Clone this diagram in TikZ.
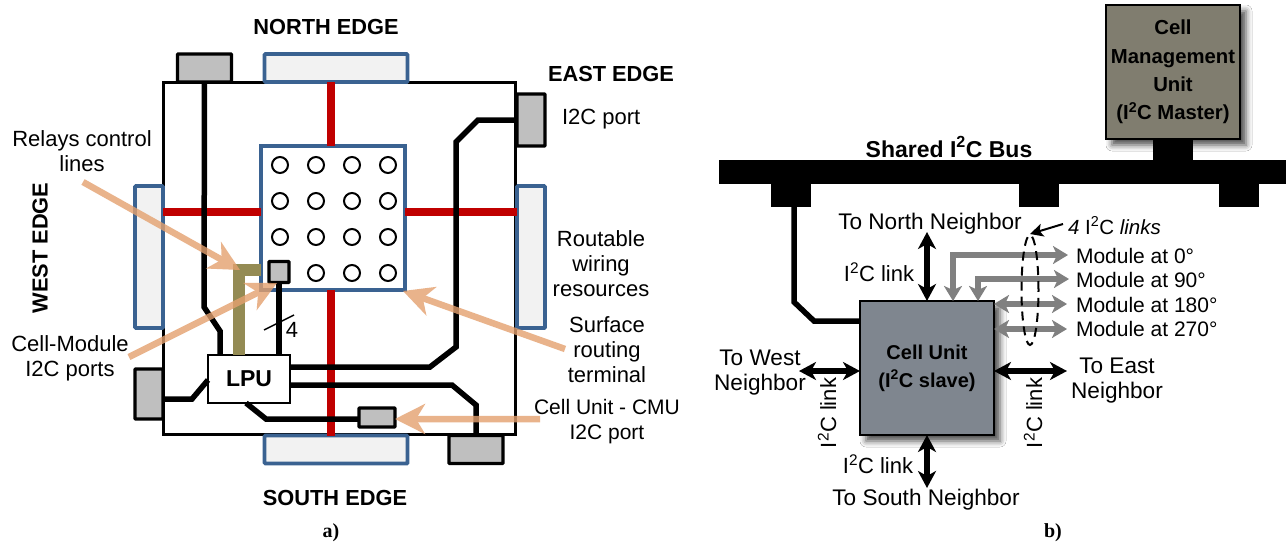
\documentclass[tikz,border=0pt]{standalone}
\usepackage{fontspec}
\setmainfont{Liberation Sans}
\newfontfamily\serifcap{Liberation Serif}
\usetikzlibrary{arrows.meta,shadows.blur,calc,shapes.geometric}
\definecolor{edgeblue}{HTML}{3A6291}
\definecolor{edgefill}{HTML}{F2F2F2}
\definecolor{portgray}{HTML}{BFBFBF}
\definecolor{relayred}{HTML}{C00000}
\definecolor{olive}{HTML}{948B54}
\definecolor{callout}{HTML}{E4A16F}
\definecolor{cmufill}{HTML}{807D6F}
\definecolor{cufill}{HTML}{7F868F}
\definecolor{linkgray}{HTML}{808080}
\newcommand{\fs}[1]{\fontsize{#1}{#1}\selectfont}
\tikzset{
  box/.style={draw,inner sep=0pt,outer sep=0pt},
  edgebox/.style={box,draw=edgeblue,line width=3.6pt,fill=edgefill,rounded corners=0.8pt},
  portbox/.style={box,draw=black,line width=3.4pt,fill=portgray,rounded corners=0.8pt},
  wire/.style={draw=black,line width=5.5pt,line join=miter},
  relayline/.style={draw=relayred,line width=8pt},
  ctrl/.style={draw=olive,line width=12pt,line join=miter},
  hollow/.style={circle,draw=black,line width=2pt,fill=white,minimum size=16pt,inner sep=0pt},
  lbl/.style={inner sep=0pt,outer sep=0pt,align=center,font=\fontsize{22}{25}\selectfont},
  modlbl/.style={lbl,font=\fontsize{21}{25}\selectfont},
  nblbl/.style={lbl,font=\fontsize{22.6}{25}\selectfont},
  boldlbl/.style={inner sep=0pt,outer sep=0pt,align=center,font=\fontsize{21.8}{28}\selectfont\bfseries},
  calloutarrow/.style={draw=callout,line width=6.5pt,-{Stealth[length=30pt,width=30pt,inset=9pt]}},
  biglink/.style={draw=black,line width=6pt,{Stealth[length=17pt,width=18pt,inset=5pt]}-{Stealth[length=17pt,width=18pt,inset=5pt]}},
  graybi/.style={draw=linkgray,line width=5.5pt,line join=miter,{Stealth[length=15pt,width=18pt,inset=4pt]}-{Stealth[length=15pt,width=18pt,inset=4pt]}},
  busblock/.style={fill=black,inner sep=0pt,outer sep=0pt},
  capt/.style={inner sep=0pt,outer sep=0pt,font=\serifcap\fontsize{20}{20}\selectfont\bfseries},
  unitbox/.style={draw=black,line width=2.4pt,inner sep=0pt,outer sep=0pt,align=center,
    blur shadow={shadow xshift=6pt,shadow yshift=-6pt,shadow blur radius=6pt,shadow opacity=70}},
}
\begin{document}
\begin{tikzpicture}[x=1pt,y=-1pt]
\useasboundingbox (0,0) rectangle (1286,546);
\fill[white] (0,0) rectangle (1286,546);

% ---------- a) ----------
\node[box,line width=3pt,minimum width=352pt,minimum height=352pt] (cell) at (339,258) {};

\node[edgebox,minimum width=143pt,minimum height=28pt] (north) at (336,68) {};
\node[edgebox,minimum width=143pt,minimum height=28pt] (south) at (336,449.5) {};
\node[edgebox,minimum width=28pt,minimum height=142pt] (west) at (149,257) {};
\node[edgebox,minimum width=28pt,minimum height=142pt] (east) at (531,257) {};

\node[box,draw=edgeblue,line width=3.6pt,fill=white,minimum width=144pt,minimum height=144pt] (matrix) at (333,218) {};

\path[relayline] (331,0 |- north.south) -- (331,0 |- matrix.north);
\path[relayline] (331,0 |- matrix.south) -- (331,0 |- south.north);
\path[relayline] (west.east |- 0,212) -- (matrix.west |- 0,212);
\path[relayline] (matrix.east |- 0,212) -- (east.west |- 0,212);

\foreach \cx/\nm in {280/a,316/b,352/c,388/d}
  \foreach \cy/\mm in {165/p,201/q,237/r,273/s}
    {\node[hollow] (t\nm\mm) at (\cx,\cy) {};}

\node[portbox,minimum width=54pt,minimum height=28pt] (portN) at (204.5,68) {};
\node[portbox,minimum width=28pt,minimum height=52pt] (portE) at (531,120) {};
\node[portbox,minimum width=54pt,minimum height=28pt] (portS) at (476,449.5) {};
\node[portbox,minimum width=28pt,minimum height=50pt] (portW) at (149,394) {};
\node[portbox,minimum width=20pt,minimum height=21pt] (gate) at (279,272) {};
\node[portbox,minimum width=36pt,minimum height=19pt] (cuport) at (377,417.5) {};
\node[box,line width=2pt,fill=white,minimum width=82pt,minimum height=48pt,font=\fs{23}\bfseries] (lpu) at (249,379) {LPU};

\path[ctrl] (matrix.west |- 0,270) -- (239,270) -- (239,0 |- lpu.north);
\path[wire] (portN.south) -- (204,307) -- (220,331) -- (220,0 |- lpu.north);
\path[wire] (gate.south) -- (gate.south |- lpu.north);
\draw[line width=1.5pt] (264,330) -- (294,315);
\path[wire] (portE.west) -- (478,120) -- (456,142) -- (456,347) -- (430,367) -- (lpu.east |- 0,367);
\path[wire] (lpu.east |- 0,385) -- (452,385) -- (476,405) -- (portS.north);
\path[wire] (portW.east |- 0,399) -- (192,399) -- (208,380);
\path[wire] (246,403) -- (266,419) -- (cuport.west |- 0,419);

\node[lbl] (n4) at (292,330) {4};
\node[boldlbl] (lnorth) at (326,27) {NORTH EDGE};
\node[boldlbl] (least) at (611,74) {EAST EDGE};
\node[boldlbl,rotate=90] (lwest) at (40,248) {WEST EDGE};
\node[boldlbl] (lsouth) at (335,498) {SOUTH EDGE};
\node[lbl,anchor=west] (li2c) at (562,119.5) {I2C port};
\node[lbl] (lroute) at (601,264) {Routable\\wiring\\resources};
\node[lbl] (lsurf) at (607,350) {Surface\\routing\\terminal};
\node[modlbl] (lcmu) at (607,421.5) {Cell Unit - CMU\\I2C port};
\node[lbl] (lrelay) at (82,151) {Relays control\\lines};
\node[lbl] (lcm) at (70,358.5) {Cell-Module\\I2C ports};
\node[capt] (capa) at (331,533) {a)};

\coordinate (c1) at (83,182);
\coordinate (c1t) at (240,270);
\coordinate (c2) at (129,357);
\coordinate (c2t) at (277,283);
\coordinate (c3) at (565,349);
\coordinate (c3t) at (403,291);
\coordinate (c4) at (540,419);
\begin{scope}[transparency group,opacity=.8]
  \path[calloutarrow] (c1) -- (c1t);
  \path[calloutarrow] (c2) -- (c2t);
  \path[calloutarrow] (c3) -- (c3t);
  \path[calloutarrow] (c4) -- (cuport.east |- c4);
\end{scope}

% ---------- b) ----------
\node[busblock,minimum width=567pt,minimum height=24pt] (bus) at (1002.5,172) {};
\node[busblock,minimum width=40pt,minimum height=23pt] (stubA) at (791,195) {};
\node[busblock,minimum width=40pt,minimum height=23pt] (stubB) at (1039,195) {};
\node[busblock,minimum width=40pt,minimum height=23pt] (stubC) at (1239,195) {};
\node[busblock,minimum width=40pt,minimum height=23pt] (stubT) at (1173,149) {};
\node[unitbox,fill=cmufill,minimum width=134pt,minimum height=134pt,font=\fontsize{20.3}{28.3}\selectfont\bfseries] (cmu) at (1173,72) {Cell\\Management\\Unit\\(I\textsuperscript{2}C Master)};
\node[unitbox,fill=cufill,minimum width=134pt,minimum height=134pt,font=\fontsize{20}{28}\selectfont\bfseries] (cu) at (927,368) {Cell Unit\\(I\textsuperscript{2}C slave)};

\node[boldlbl,font=\fontsize{23}{28}\selectfont\bfseries] (lbus) at (949,147) {Shared I\textsuperscript{2}C Bus};

\path[wire] (794,0 |- stubA.south) -- (794,302) -- (814,321) -- (cu.west |- 0,321);

\coordinate (nN) at (927,232);
\coordinate (nS) at (927,488);
\coordinate (nE) at (1067,371);
\coordinate (nW) at (799,371);
\path[biglink] (nN) -- (cu.north);
\path[biglink] (cu.south) -- (nS);
\path[biglink] (cu.east |- nE) -- (nE);
\path[biglink] (nW) -- (cu.west |- nW);

\coordinate (m0) at (1068,255);
\coordinate (m90) at (1069,279);
\coordinate (m180) at (1067,304);
\coordinate (m270) at (1067,329);
\path[graybi] (m0) -- (953,255) -- (953,0 |- cu.north);
\path[graybi] (m90) -- (978,279) -- (978,0 |- cu.north);
\path[graybi] (cu.east |- m180) -- (m180);
\path[graybi] (cu.east |- m270) -- (m270);

\node[draw=black,line width=2pt,dash pattern=on 9pt off 6pt,ellipse,inner sep=0pt,minimum width=17pt,minimum height=110pt] (ring) at (1030,290) {};

\node[modlbl,font=\fontsize{20.5}{25}\selectfont,anchor=west] (l4) at (1068,225.5) {\itshape 4 \upshape I\textsuperscript{2}C \itshape links};
\draw[line width=2pt,-{Stealth[length=13pt,width=13pt,inset=3pt]}] (1063,224) -- (ring.north);

\node[modlbl,anchor=west] (lm0) at (1076,255.5) {Module at 0°};
\node[modlbl,anchor=west] (lm90) at (1076,279.5) {Module at 90°};
\node[modlbl,anchor=west] (lm180) at (1076,304.5) {Module at 180°};
\node[modlbl,anchor=west] (lm270) at (1076,328.5) {Module at 270°};

\node[nblbl] (ltoN) at (930,223.5) {To North Neighbor};
\node[lbl] (lN) at (879,272) {I\textsuperscript{2}C link};
\node[lbl] (lS) at (878,464) {I\textsuperscript{2}C link};
\node[nblbl] (ltoS) at (926,499.5) {To South Neighbor};
\node[nblbl] (ltoW) at (760,373) {To West\\Neighbor};
\node[nblbl] (ltoE) at (1117,381) {To East\\Neighbor};
\node[lbl,rotate=90] (lW) at (827,413) {I\textsuperscript{2}C link};
\node[lbl,rotate=90] (lE) at (1033,413) {I\textsuperscript{2}C link};
\node[capt] (capb) at (1053,533) {b)};
\end{tikzpicture}
\end{document}
